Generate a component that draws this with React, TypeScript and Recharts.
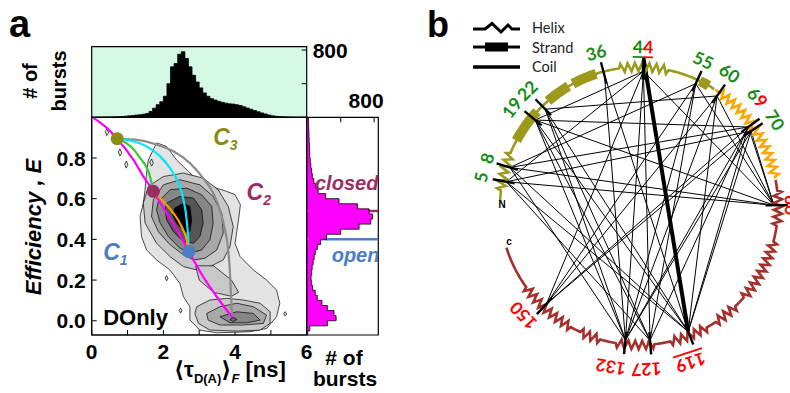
import React from 'react';
import {
  ScatterChart,
  Scatter,
  ComposedChart,
  Area,
  XAxis,
  YAxis,
  ReferenceArea,
  ReferenceLine,
  CartesianGrid,
} from 'recharts';

const FONT = '"Liberation Sans", Arial, sans-serif';
const OLIVE = '#8c8c14';
const MAROON = '#9a2e60';
const BLUE = '#4c7dc5';
const GREEN = '#148c14';
const RED = '#ff0000';

// ---------- panel a: lifetime histogram (bin start ns, bursts) ----------
const TAU_HIST: [number, number][] = [
  [0.0, 2], [0.1, 2], [0.2, 3], [0.3, 3], [0.4, 4], [0.5, 5], [0.6, 6], [0.7, 8], [0.8, 10], [0.9, 13],
  [1.0, 17], [1.1, 22], [1.2, 26], [1.3, 30], [1.4, 36], [1.5, 46], [1.6, 70], [1.7, 108], [1.8, 150], [1.9, 185],
  [2.0, 250], [2.1, 400], [2.2, 600], [2.3, 640], [2.4, 750], [2.5, 780], [2.6, 700], [2.7, 600], [2.8, 500], [2.9, 420],
  [3.0, 350], [3.1, 290], [3.2, 250], [3.3, 222], [3.4, 205], [3.5, 190], [3.6, 178], [3.7, 168], [3.8, 160], [3.9, 157],
  [4.0, 150], [4.1, 140], [4.2, 126], [4.3, 110], [4.4, 95], [4.5, 80], [4.6, 66], [4.7, 52], [4.8, 40], [4.9, 28],
  [5.0, 18], [5.1, 12], [5.2, 9], [5.3, 7], [5.4, 5], [5.5, 3], [5.6, 2], [5.7, 1], [5.8, 1], [5.9, 0], [6.0, 0],
];

// ---------- panel a: efficiency histogram (bin start E, bursts) ----------
const E_BIN = 0.025;
const E_HIST: [number, number][] = [
  [-0.075, 5], [-0.05, 30], [-0.025, 240], [0.0, 345], [0.025, 320], [0.05, 240], [0.075, 175], [0.1, 120],
  [0.125, 95], [0.15, 62], [0.175, 48], [0.2, 45], [0.225, 52], [0.25, 58], [0.275, 70], [0.3, 82],
  [0.325, 95], [0.35, 120], [0.375, 160], [0.4, 230], [0.425, 400], [0.45, 620], [0.475, 760], [0.5, 780],
  [0.525, 740], [0.55, 600], [0.575, 380], [0.6, 220], [0.625, 130], [0.65, 100], [0.675, 78], [0.7, 60],
  [0.725, 50], [0.75, 42], [0.775, 35], [0.8, 30], [0.825, 28], [0.85, 25], [0.875, 22], [0.9, 20],
  [0.925, 18], [0.95, 16], [0.975, 14],
];
const CLOSED_E = 0.54;
const OPEN_E = 0.4;

// ---------- panel a: 2D contour levels (tau, E) ----------
const L1_OUTER = [
  [1.58, 0.79], [1.81, 0.874], [2.09, 0.857], [2.37, 0.79], [2.84, 0.71], [3.3, 0.66], [3.7, 0.64],
  [4.0, 0.62], [4.15, 0.57], [4.1, 0.5], [4.05, 0.44], [4.0, 0.38], [4.14, 0.316], [4.51, 0.25], [4.88, 0.2],
  [5.16, 0.151], [5.25, 0.086], [5.16, 0.02], [4.88, -0.038], [4.42, -0.054], [3.49, -0.059], [3.02, -0.046],
  [2.74, 0.004], [2.74, 0.069], [2.56, 0.118], [2.46, 0.184], [2.18, 0.25], [1.81, 0.299], [1.53, 0.348],
  [1.39, 0.414], [1.35, 0.513], [1.44, 0.578], [1.49, 0.644], [1.53, 0.726],
];
const ISLANDS = [
  [[0.38, 0.93], [0.43, 0.945], [0.47, 0.925], [0.42, 0.91]],
  [[0.74, 0.83], [0.79, 0.845], [0.84, 0.825], [0.79, 0.81]],
  [[0.92, 0.77], [0.97, 0.785], [1.01, 0.765], [0.96, 0.75]],
  [[1.62, 0.78], [1.67, 0.795], [1.72, 0.775], [1.67, 0.76]],
  [[2.05, 0.21], [2.09, 0.222], [2.13, 0.208], [2.09, 0.196]],
  [[2.44, 0.05], [2.48, 0.062], [2.52, 0.05], [2.48, 0.038]],
  [[5.36, 0.035], [5.4, 0.045], [5.44, 0.033], [5.4, 0.023]],
];
const L2_MAIN = [
  [1.44, 0.578], [1.58, 0.66], [2.0, 0.709], [2.56, 0.726], [3.11, 0.701], [3.53, 0.644], [3.81, 0.562],
  [3.95, 0.463], [3.86, 0.365], [3.67, 0.299], [3.3, 0.266], [2.93, 0.25], [2.56, 0.266], [2.19, 0.315],
  [1.81, 0.381], [1.49, 0.48],
];
const L2_TAIL = [[2.9, 0.27], [3.4, 0.27], [3.9, 0.2], [4.1, 0.14], [3.9, 0.12], [3.4, 0.14], [3.0, 0.2]];
const L2_LOW = [
  [2.88, 0.036], [2.93, 0.069], [3.3, 0.102], [3.77, 0.11], [4.23, 0.102], [4.7, 0.086], [4.98, 0.044],
  [4.98, -0.013], [4.7, -0.046], [4.05, -0.051], [3.3, -0.046], [2.98, -0.013],
];
const L3_MAIN = [
  [1.72, 0.595], [2.0, 0.668], [2.46, 0.693], [3.02, 0.668], [3.39, 0.611], [3.63, 0.529], [3.67, 0.43],
  [3.49, 0.348], [3.16, 0.307], [2.84, 0.299], [2.56, 0.324], [2.19, 0.373], [1.86, 0.438], [1.67, 0.512],
];
const L3_LOW = [
  [3.25, 0.003], [3.21, 0.036], [3.58, 0.069], [4.05, 0.086], [4.51, 0.069], [4.88, 0.028], [4.79, -0.013],
  [4.23, -0.021], [3.58, -0.021],
];
const L4_MAIN = [
  [1.86, 0.586], [2.19, 0.644], [2.65, 0.652], [3.07, 0.619], [3.35, 0.562], [3.39, 0.48], [3.3, 0.398],
  [3.07, 0.348], [2.74, 0.332], [2.46, 0.357], [2.14, 0.414], [1.91, 0.48], [1.81, 0.545],
];
const L4_LOW = [[3.58, 0.02], [4.05, 0.044], [4.51, 0.036], [4.7, 0.003], [4.33, -0.01], [3.86, -0.01]];
const L5_MAIN = [
  [2.09, 0.578], [2.46, 0.611], [2.84, 0.603], [3.07, 0.545], [3.11, 0.48], [3.02, 0.414], [2.84, 0.381],
  [2.56, 0.389], [2.28, 0.438], [2.09, 0.496], [2.05, 0.545],
];
const L5_LOW = [[3.86, 0.006], [3.95, 0.016], [4.05, 0.006], [3.95, -0.004]];
const L6_MAIN = [
  [2.32, 0.554], [2.56, 0.578], [2.74, 0.562], [2.79, 0.496], [2.74, 0.438], [2.6, 0.438], [2.37, 0.48], [2.26, 0.52],
];

const CONTOURS: { pts: number[][]; fill: string }[] = [
  { pts: L1_OUTER, fill: '#e3e3e3' },
  ...ISLANDS.map((pts) => ({ pts, fill: '#e3e3e3' })),
  { pts: L2_MAIN, fill: '#c8c8c8' },
  { pts: L2_TAIL, fill: '#c8c8c8' },
  { pts: L2_LOW, fill: '#c8c8c8' },
  { pts: L3_MAIN, fill: '#a8a8a8' },
  { pts: L3_LOW, fill: '#a8a8a8' },
  { pts: L4_MAIN, fill: '#868686' },
  { pts: L4_LOW, fill: '#868686' },
  { pts: L5_MAIN, fill: '#555555' },
  { pts: L5_LOW, fill: '#6e6e6e' },
  { pts: L6_MAIN, fill: '#000000' },
];

// ---------- panel a: FRET lines (tau, E) ----------
const STATIC_LINE = [
  [0.045, 0.997], [0.42, 0.948], [0.71, 0.895], [1.16, 0.792], [1.44, 0.71], [1.72, 0.636],
  [2.09, 0.529], [2.46, 0.422], [2.71, 0.34], [3.11, 0.217], [3.49, 0.118], [3.92, 0.017],
];
const GREY_LINE = [
  [0.71, 0.895], [1.35, 0.887], [1.81, 0.866], [2.28, 0.833], [2.74, 0.775], [3.11, 0.701], [3.39, 0.628],
  [3.58, 0.545], [3.72, 0.447], [3.81, 0.348], [3.86, 0.233], [3.89, 0.118], [3.92, 0.02],
];
const CYAN_LINE = [
  [0.71, 0.895], [1.16, 0.882], [1.53, 0.857], [1.91, 0.808], [2.18, 0.751], [2.42, 0.677],
  [2.56, 0.595], [2.65, 0.496], [2.7, 0.381], [2.71, 0.34],
];
const GREEN_LINE = [[0.71, 0.895], [1.1, 0.855], [1.35, 0.8], [1.58, 0.735], [1.68, 0.67], [1.72, 0.636]];
const ORANGE_LINE = [[1.72, 0.636], [2.0, 0.586], [2.28, 0.529], [2.51, 0.463], [2.65, 0.398], [2.71, 0.34]];

const STATES = [
  { x: 0.71, y: 0.895, color: OLIVE },
  { x: 1.72, y: 0.636, color: MAROON },
  { x: 2.71, y: 0.34, color: BLUE },
];

const MAIN_NOTES = [
  { x: 3.39, y: 0.865, text: 'C', sub: '3', color: OLIVE },
  { x: 4.32, y: 0.595, text: 'C', sub: '2', color: MAROON },
  { x: 0.32, y: 0.299, text: 'C', sub: '1', color: BLUE },
  { x: 0.32, y: -0.021, text: 'DOnly', color: '#000', upright: true },
];
const SIDE_NOTES = [
  { x: 92, y: 0.644, text: 'closed', color: MAROON },
  { x: 292, y: 0.288, text: 'open', color: BLUE },
];

// ---------- panel b: residues ----------
const ANGLE0 = -88;
const DEG_PER_RES = 2.09;
const DOMAINS = [
  { from: 1, to: 59, color: '#9b9a1d' },
  { from: 59, to: 81, color: '#ffa500' },
  { from: 81, to: 164, color: '#a5302b' },
];
const HELICES: [number, number][] = [
  [3, 11], [39, 49], [60, 80], [83, 90], [93, 106], [108, 113], [115, 123], [126, 134], [137, 141], [143, 155],
];
const STRANDS: [number, number][] = [[14, 20], [24, 28], [30, 34], [56, 57]];
const LABELS = [
  { res: 5, at: 5, r: 1.16, parts: [['5', GREEN]] },
  { res: 8, at: 8.4, r: 1.15, parts: [['8', GREEN]] },
  { res: 19, at: 18.1, r: 1.16, parts: [['19', GREEN]] },
  { res: 22, at: 22, r: 1.16, parts: [['22', GREEN]] },
  { res: 36, at: 35.6, r: 1.15, parts: [['36', GREEN]] },
  { res: 44, at: 43.8, r: 1.15, parts: [['4', GREEN], ['4', RED]], underline: true },
  { res: 55, at: 54.5, r: 1.15, parts: [['55', GREEN]] },
  { res: 60, at: 59.5, r: 1.16, parts: [['60', GREEN]] },
  { res: 69, at: 65.8, r: 1.16, parts: [['6', GREEN], ['9', RED]] },
  { res: 70, at: 70.7, r: 1.16, parts: [['70', GREEN]] },
  { res: 86, at: 86, r: 1.1, parts: [['86', RED]] },
  { res: 119, at: 120.5, r: 1.19, parts: [['119', RED]], underline: true },
  { res: 127, at: 128, r: 1.18, parts: [['127', RED]] },
  { res: 132, at: 134, r: 1.18, parts: [['132', RED]] },
  { res: 150, at: 151.5, r: 1.15, parts: [['150', RED]] },
];
const CONTACTS: [number, number][] = [
  [44, 127], [44, 132], [44, 150], [44, 86], [44, 5], [44, 19],
  [36, 132], [36, 119],
  [19, 69], [19, 132], [19, 119], [19, 127], [19, 86],
  [22, 119], [22, 132], [22, 127],
  [5, 119], [5, 86], [5, 127], [5, 70],
  [8, 69], [8, 132], [8, 119], [8, 86],
  [55, 150], [55, 132], [55, 8], [55, 86], [55, 127],
  [60, 150], [60, 132], [60, 119], [60, 86], [60, 22],
  [69, 150], [69, 132], [69, 127], [69, 119], [69, 86],
  [70, 150], [70, 132], [70, 119], [70, 86],
];
const STRONG_CONTACTS: [number, number][] = [[44, 119]];

const toPts = (a: number[][]) => a.map(([x, y]) => ({ x, y }));
const emptyShape = () => <g />;

const resAngle = (res: number) => ANGLE0 + (res - 1) * DEG_PER_RES;
const onCircle = (res: number, r: number) => {
  const a = (resAngle(res) * Math.PI) / 180;
  return { x: r * Math.sin(a), y: r * Math.cos(a) };
};
const isHelix = (res: number) => HELICES.some(([a, b]) => res >= a && res <= b);
const domainColor = (res: number) => (DOMAINS.find((d) => res >= d.from && res <= d.to) || DOMAINS[0]).color;

function backbone(from: number, to: number) {
  const wave = [0, 1, 0, -1];
  const pts: { x: number; y: number }[] = [];
  let k = 0;
  for (let i = 0; from + i * 0.35 <= to + 1e-6; i++) {
    const res = from + i * 0.35;
    let w = 0;
    if (isHelix(res)) {
      w = wave[k % 4];
      k++;
    } else k = 0;
    pts.push(onCircle(res, 1 + 0.03 * w));
  }
  return pts;
}
function arc(from: number, to: number, r: number) {
  const pts: { x: number; y: number }[] = [];
  for (let res = from; res <= to + 1e-6; res += 0.5) pts.push(onCircle(res, r));
  return pts;
}

// ---------- ticks ----------
const MainXTick = (p: any) =>
  p.payload.value % 2 === 0 ? (
    <text x={p.x} y={p.y + 24} textAnchor="middle" fontSize={21} fontWeight="bold" fontFamily={FONT} fill="#000">
      {p.payload.value}
    </text>
  ) : (
    <g />
  );
const MainYTick = (p: any) => (
  <text x={p.x - 6} y={p.y} dy="0.36em" textAnchor="end" fontSize={21} fontWeight="bold" fontFamily={FONT} fill="#000">
    {Number(p.payload.value).toFixed(1)}
  </text>
);
const RightCountTick = (p: any) =>
  p.payload.value === 800 ? (
    <text x={p.x + 6} y={p.y} dy="0.36em" fontSize={21} fontWeight="bold" fontFamily={FONT} fill="#000">
      800
    </text>
  ) : (
    <g />
  );
const TopCountTick = (p: any) =>
  p.payload.value === 800 ? (
    <text x={p.x - 8} y={p.y - 9} textAnchor="middle" fontSize={21} fontWeight="bold" fontFamily={FONT} fill="#000">
      800
    </text>
  ) : (
    <g />
  );

const NoteShape = (p: any) => {
  const d = p.payload;
  return (
    <text
      x={p.cx}
      y={p.cy}
      fill={d.color}
      fontSize={d.upright ? 22 : 23}
      fontWeight="bold"
      fontStyle={d.upright ? 'normal' : 'italic'}
      fontFamily={FONT}
    >
      {d.text}
      {d.sub && (
        <tspan fontSize={14} dy={5}>
          {d.sub}
        </tspan>
      )}
    </text>
  );
};
const SideNoteShape = (p: any) => {
  const d = p.payload;
  return (
    <text x={p.cx} y={p.cy} fill={d.color} fontSize={20} fontWeight="bold" fontStyle="italic" fontFamily={FONT}>
      {d.text}
    </text>
  );
};
const StateDot = (p: any) => <circle cx={p.cx} cy={p.cy} r={6.5} fill={p.payload.color} />;

const ResidueLabel = (p: any) => {
  const d = p.payload;
  const rot = resAngle(d.at);
  return (
    <text
      x={p.cx}
      y={p.cy}
      transform={`rotate(${rot} ${p.cx} ${p.cy})`}
      textAnchor="middle"
      dominantBaseline="central"
      fontFamily="Lato, sans-serif"
      fontWeight={700}
      fontSize={17.5}
    >
      {d.parts.map(([t, c]: string[], i: number) => (
        <tspan key={i} fill={c} style={d.underline ? { textDecoration: 'underline' } : undefined}>
          {t}
        </tspan>
      ))}
    </text>
  );
};
const EndLabel = (p: any) => (
  <text x={p.cx} y={p.cy} textAnchor="middle" dominantBaseline="central" fontSize={10} fontWeight="bold" fontFamily={FONT} fill="#000">
    {p.payload.text}
  </text>
);

function TopHistogram() {
  const data = TAU_HIST.map(([t, n]) => ({ t, n }));
  return (
    <div style={{ position: 'absolute', left: 0, top: 0 }}>
      <ComposedChart width={400} height={130} data={data} margin={{ top: 46.7, right: 33.3, bottom: 12.7, left: 91.7 }}>
        <CartesianGrid horizontal={false} vertical={false} fill="#d3f8e3" fillOpacity={1} />
        <XAxis type="number" dataKey="t" domain={[0, 6]} ticks={[1, 2, 3, 4, 5]} orientation="top" height={0} tickSize={-4} tick={false} axisLine={false} stroke="#000" allowDataOverflow />
        <YAxis orientation="right" width={60} domain={[0, 840]} ticks={[0, 200, 400, 600, 800]} tickSize={-5} tickMargin={5} tick={<RightCountTick />} axisLine={false} stroke="#000" allowDataOverflow />
        <Area type="stepAfter" dataKey="n" fill="#000" fillOpacity={1} stroke="#000" strokeWidth={0.8} dot={false} activeDot={false} isAnimationActive={false} />
        <ReferenceArea x1={0} x2={6} y1={0} y2={840} fill="none" stroke="#000" strokeWidth={1.2} />
      </ComposedChart>
    </div>
  );
}

function MainPlot() {
  return (
    <div style={{ position: 'absolute', left: 0, top: 0 }}>
      <ScatterChart width={320} height={393} margin={{ top: 117.3, right: 13.3, bottom: 28, left: 31.7 }}>
        <XAxis type="number" dataKey="x" domain={[0, 6]} ticks={[0, 1, 2, 3, 4, 5, 6]} height={30} tickSize={-5} tickMargin={5} tick={<MainXTick />} stroke="#000" allowDataOverflow />
        <YAxis type="number" dataKey="y" domain={[-0.07, 1]} ticks={[0, 0.2, 0.4, 0.6, 0.8]} width={60} tickSize={-5} tickMargin={5} tick={<MainYTick />} stroke="#000" allowDataOverflow />
        {CONTOURS.map((c, i) => (
          <Scatter
            key={`c${i}`}
            data={toPts(c.pts)}
            line={{ fill: c.fill, stroke: '#000', strokeWidth: 0.7 }}
            lineJointType="linearClosed"
            shape={emptyShape}
            isAnimationActive={false}
          />
        ))}
        <Scatter data={toPts(GREY_LINE)} line={{ stroke: '#8c8c8c', strokeWidth: 2.2 }} lineJointType="monotone" shape={emptyShape} isAnimationActive={false} />
        <Scatter data={toPts(CYAN_LINE)} line={{ stroke: '#00e6ff', strokeWidth: 2.2 }} lineJointType="monotone" shape={emptyShape} isAnimationActive={false} />
        <Scatter data={toPts(STATIC_LINE)} line={{ stroke: '#ff00ff', strokeWidth: 2.2 }} lineJointType="monotone" shape={emptyShape} isAnimationActive={false} />
        <Scatter data={toPts(GREEN_LINE)} line={{ stroke: '#33cc33', strokeWidth: 2.2 }} lineJointType="monotone" shape={emptyShape} isAnimationActive={false} />
        <Scatter data={toPts(ORANGE_LINE)} line={{ stroke: '#ff9900', strokeWidth: 2.2 }} lineJointType="monotone" shape={emptyShape} isAnimationActive={false} />
        <Scatter data={STATES} shape={StateDot} isAnimationActive={false} />
        <Scatter data={MAIN_NOTES} shape={NoteShape} isAnimationActive={false} />
        <ReferenceArea x1={0} x2={6} y1={-0.07} y2={1} fill="none" stroke="#000" strokeWidth={1.2} />
      </ScatterChart>
    </div>
  );
}

function SideHistogram() {
  const last = E_HIST[E_HIST.length - 1][0] + E_BIN;
  const poly = [
    { x: 0, y: E_HIST[0][0] },
    ...E_HIST.flatMap(([e, n]) => [{ x: n, y: e }, { x: n, y: e + E_BIN }]),
    { x: 0, y: last },
  ];
  return (
    <div style={{ position: 'absolute', left: 300, top: 0 }}>
      <ScatterChart width={100} height={393} margin={{ top: 87.3, right: 21.7, bottom: 58, left: 7.3 }}>
        <XAxis type="number" dataKey="x" orientation="top" domain={[0, 850]} ticks={[0, 200, 400, 600, 800]} height={30} tickSize={-5} tickMargin={5} tick={<TopCountTick />} axisLine={false} stroke="#000" allowDataOverflow />
        <YAxis type="number" dataKey="y" orientation="right" domain={[-0.07, 1]} ticks={[0, 0.1, 0.2, 0.3, 0.4, 0.5, 0.6, 0.7, 0.8, 0.9]} width={0} tickSize={-4} tick={false} axisLine={false} stroke="#000" allowDataOverflow />
        <Scatter data={poly} line={{ fill: '#ff00ff', stroke: '#000', strokeWidth: 0.8 }} lineJointType="linear" shape={emptyShape} isAnimationActive={false} />
        <ReferenceLine y={CLOSED_E} stroke={MAROON} strokeWidth={2.5} />
        <ReferenceLine y={OPEN_E} stroke={BLUE} strokeWidth={2.5} />
        <Scatter data={SIDE_NOTES} shape={SideNoteShape} isAnimationActive={false} />
        <ReferenceArea x1={0} x2={850} y1={-0.07} y2={1} fill="none" stroke="#000" strokeWidth={1.2} />
      </ScatterChart>
    </div>
  );
}

function ContactMap() {
  const ticks = LABELS.map((l) => ({ res: l.res, pts: [onCircle(l.res, 0.91), onCircle(l.res, 1.07)] }));
  const labels = LABELS.map((l) => ({ ...onCircle(l.at, l.r), ...l }));
  const ends = [
    { ...onCircle(0.3, 0.985), text: 'N' },
    { ...onCircle(165, 0.97), text: 'c' },
  ];
  return (
    <div style={{ position: 'absolute', left: 420, top: 0 }}>
      <ScatterChart width={370} height={393} margin={{ top: 0, right: 0, bottom: 0, left: 0 }}>
        <XAxis type="number" dataKey="x" domain={[-1.576, 1.086]} hide allowDataOverflow />
        <YAxis type="number" dataKey="y" domain={[-1.345, 1.482]} hide allowDataOverflow />
        {CONTACTS.map(([a, b], i) => (
          <Scatter key={`k${i}`} data={[onCircle(a, 0.97), onCircle(b, 0.97)]} line={{ stroke: '#000', strokeWidth: 1 }} shape={emptyShape} isAnimationActive={false} />
        ))}
        {STRONG_CONTACTS.map(([a, b], i) => (
          <Scatter key={`s${i}`} data={[onCircle(a, 1.05), onCircle(b, 0.97)]} line={{ stroke: '#000', strokeWidth: 4 }} shape={emptyShape} isAnimationActive={false} />
        ))}
        {DOMAINS.map((d, i) => (
          <Scatter key={`d${i}`} data={backbone(d.from, d.to)} line={{ stroke: d.color, strokeWidth: 2.6 }} shape={emptyShape} isAnimationActive={false} />
        ))}
        {STRANDS.map(([a, b], i) => (
          <Scatter key={`e${i}`} data={arc(a - 0.5, b + 0.5, 1)} line={{ stroke: domainColor(a), strokeWidth: 10 }} shape={emptyShape} isAnimationActive={false} />
        ))}
        {ticks.map((t, i) => (
          <Scatter key={`t${i}`} data={t.pts} line={{ stroke: '#000', strokeWidth: t.res === 44 ? 3.5 : 2.4 }} shape={emptyShape} isAnimationActive={false} />
        ))}
        <Scatter data={labels} shape={ResidueLabel} isAnimationActive={false} />
        <Scatter data={ends} shape={EndLabel} isAnimationActive={false} />
      </ScatterChart>
    </div>
  );
}

function SSLegend() {
  const row = { display: 'flex', alignItems: 'center', height: 19.5 } as const;
  return (
    <div style={{ position: 'absolute', left: 473, top: 18, fontFamily: 'Lato, sans-serif', fontSize: 14.5, color: '#222' }}>
      <div style={row}>
        <svg width={59} height={18}>
          <path d="M0,10 L12,10 L19,4.5 L28,13 L35,6 L39,10 L47,10" stroke="#000" strokeWidth={3} fill="none" />
        </svg>
        <span>Helix</span>
      </div>
      <div style={row}>
        <svg width={59} height={18}>
          <line x1={0} y1={9} x2={47} y2={9} stroke="#000" strokeWidth={3} />
          <rect x={12} y={4.5} width={23} height={9} fill="#000" />
        </svg>
        <span>Strand</span>
      </div>
      <div style={row}>
        <svg width={59} height={18}>
          <line x1={0} y1={9} x2={47} y2={9} stroke="#000" strokeWidth={3.5} />
        </svg>
        <span>Coil</span>
      </div>
    </div>
  );
}

function Titles() {
  return (
    <svg width={790} height={393} style={{ position: 'absolute', left: 0, top: 0, pointerEvents: 'none' }}>
      <g fontFamily={FONT} fontWeight="bold" fill="#000">
        <text x={9} y={37} fontSize={38}>a</text>
        <text x={427} y={37} fontSize={36}>b</text>
        <text transform="translate(41 227) rotate(-90)" textAnchor="middle" fontSize={22} fontStyle="italic">
          Efficiency , E
        </text>
        <text transform="translate(37 81) rotate(-90)" textAnchor="middle" fontSize={20}>
          # of
        </text>
        <text transform="translate(66 81) rotate(-90)" textAnchor="middle" fontSize={20}>
          bursts
        </text>
        <text x={344} y={365} textAnchor="middle" fontSize={21}>
          # of
        </text>
        <text x={345} y={386} textAnchor="middle" fontSize={21}>
          bursts
        </text>
        <text x={174} y={377} fontSize={22} fontFamily={`${FONT}, "DejaVu Sans"`}>
          ⟨τ
          <tspan fontSize={13} dy={6}>D(A)</tspan>
          <tspan dy={-6}>⟩</tspan>
          <tspan fontSize={13} dy={6} fontStyle="italic">F</tspan>
          <tspan dy={-6}> [ns]</tspan>
        </text>
      </g>
    </svg>
  );
}

export default function App() {
  return (
    <div
      style={{
        position: 'absolute',
        left: 0,
        top: 0,
        width: 790,
        height: 393,
        background: '#fff',
        overflow: 'hidden',
        fontFamily: FONT,
      }}
    >
      <TopHistogram />
      <MainPlot />
      <SideHistogram />
      <ContactMap />
      <SSLegend />
      <Titles />
    </div>
  );
}
